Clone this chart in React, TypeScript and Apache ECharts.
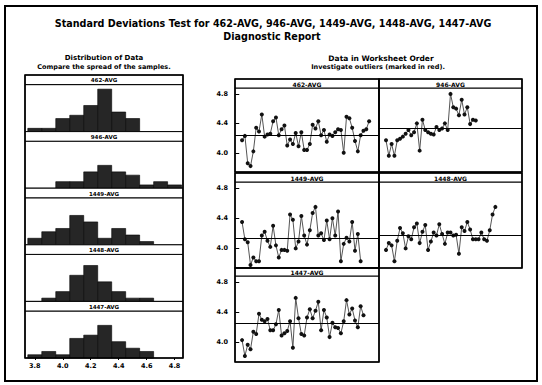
import React, { useEffect, useRef } from "react";
import * as echarts from "echarts";

// ---------- data ----------
const sampleNames = ["462-AVG", "946-AVG", "1449-AVG", "1448-AVG", "1447-AVG"];

const titleLines = [
  "Standard Deviations Test for 462-AVG, 946-AVG, 1449-AVG, 1448-AVG, 1447-AVG",
  "Diagnostic Report",
];
const leftSubtitle = ["Distribution of Data", "Compare the spread of the samples."];
const rightSubtitle = ["Data in Worksheet Order", "Investigate outliers (marked in red)."];

// histogram bins (centers) and counts
const binCenters = [3.8, 3.9, 4.0, 4.1, 4.2, 4.3, 4.4, 4.5, 4.6, 4.7, 4.8];
const hist462 = [1, 1, 4, 5, 8, 13, 6, 4, 0, 0, 0];
const hist946 = [0, 0, 2, 2, 5, 7, 5, 4, 1, 2, 1];
const hist1449 = [2, 4, 5, 9, 7, 2, 5, 3, 1, 0, 0];
const hist1448 = [0, 1, 3, 8, 11, 6, 3, 1, 1, 0, 0];
const hist1447 = [1, 2, 1, 6, 7, 10, 5, 3, 2, 0, 0];
const histTicks = [3.8, 4.0, 4.2, 4.4, 4.6, 4.8];

// data in worksheet order
const ts462 = [4.17, 4.23, 3.86, 3.82, 4.02, 4.34, 4.29, 4.52, 4.22, 4.25, 4.26, 4.43, 4.48, 4.24, 4.32, 4.37, 4.10, 4.18, 4.12, 4.27, 4.09, 4.28, 4.04, 4.04, 4.12, 4.38, 4.33, 4.43, 4.24, 4.31, 4.15, 4.25, 4.23, 4.28, 4.32, 4.31, 4.00, 4.49, 4.47, 4.34, 4.16, 4.02, 4.24, 4.30, 4.32, 4.43];
const ts946 = [4.17, 3.96, 4.12, 3.96, 4.17, 4.19, 4.22, 4.26, 4.31, 4.24, 4.28, 4.40, 4.03, 4.45, 4.31, 4.28, 4.26, 4.25, 4.35, 4.31, 4.33, 4.40, 4.31, 4.80, 4.62, 4.60, 4.51, 4.72, 4.52, 4.62, 4.39, 4.45, 4.44];
const ts1449 = [4.35, 4.12, 4.08, 3.78, 3.88, 3.83, 3.83, 4.17, 4.22, 4.10, 4.02, 4.30, 4.04, 3.88, 3.98, 3.98, 3.97, 4.45, 4.38, 4.00, 4.09, 4.43, 4.17, 4.05, 4.24, 4.47, 4.55, 4.17, 4.20, 4.11, 4.37, 4.12, 4.40, 4.17, 4.49, 3.83, 4.06, 4.14, 4.09, 4.35, 3.97, 4.19, 3.83];
const ts1448 = [3.98, 4.07, 4.04, 3.83, 4.10, 4.27, 4.20, 4.00, 4.16, 4.12, 4.28, 4.33, 4.07, 4.22, 4.31, 3.98, 4.09, 4.21, 4.17, 4.32, 4.19, 4.06, 4.21, 4.21, 4.17, 4.18, 3.93, 4.28, 4.23, 4.35, 4.25, 4.12, 4.12, 4.12, 4.21, 4.12, 4.10, 4.24, 4.45, 4.55];
const ts1447 = [4.03, 3.82, 3.97, 3.91, 4.14, 4.11, 4.38, 4.30, 4.28, 4.31, 4.16, 4.16, 4.24, 4.43, 4.09, 4.12, 4.15, 4.28, 3.93, 4.59, 4.32, 4.11, 4.09, 4.33, 4.44, 4.32, 4.42, 4.54, 4.16, 4.43, 4.33, 4.07, 4.26, 4.20, 4.19, 4.12, 4.28, 4.56, 4.37, 4.45, 4.29, 4.20, 4.48, 4.36];
const centerLines = [4.24, 4.33, 4.14, 4.18, 4.25];
const tsTicks = [4.0, 4.4, 4.8];

const histograms = [hist462, hist946, hist1449, hist1448, hist1447];
const series = [ts462, ts946, ts1449, ts1448, ts1447];

// ---------- layout ----------
const FONT = "DejaVu Sans";
const H_LEFT = 25;
const H_WIDTH = 158;
const H_TOP = 75;
const H_STEP = 56.6;
const H_HEAD = 9.6;

// time-series panel boxes: [left, headerTop, width, headerHeight, plotHeight]
const tsBoxes = [
  [235, 79, 144, 9, 84],
  [379, 79, 143, 9, 84],
  [235, 173, 144, 9, 86],
  [379, 173, 143, 9, 86],
  [235, 268, 144, 8, 86],
];

export default function App() {
  const ref = useRef<HTMLDivElement>(null);

  useEffect(() => {
    document.body.style.margin = "0";
    const chart = echarts.init(ref.current!, undefined, { renderer: "svg" });

    const grids: any[] = [];
    const xAxes: any[] = [];
    const yAxes: any[] = [];
    const allSeries: any[] = [];
    const graphics: any[] = [];

    // histograms
    histograms.forEach((counts, i) => {
      const headTop = H_TOP + i * H_STEP;
      grids.push({
        left: H_LEFT,
        top: headTop + H_HEAD,
        width: H_WIDTH,
        height: H_STEP - H_HEAD,
        show: true,
        borderColor: "#000",
        borderWidth: 1,
        backgroundColor: "#fff",
      });
      const last = i === histograms.length - 1;
      xAxes.push({
        type: "value",
        gridIndex: i,
        min: 3.73,
        max: 4.86,
        axisLine: { show: false },
        splitLine: { show: false },
        axisTick: { show: last, length: 2, customValues: histTicks, lineStyle: { color: "#000" } },
        axisLabel: {
          show: last,
          customValues: histTicks,
          margin: 4,
          fontSize: 6.5,
          fontWeight: "bold",
          fontFamily: FONT,
          color: "#000",
          formatter: (v: number) => v.toFixed(1),
        },
      });
      yAxes.push({
        type: "value",
        gridIndex: i,
        min: 0,
        max: 14.4,
        show: false,
      });
      allSeries.push({
        type: "custom",
        xAxisIndex: i,
        yAxisIndex: i,
        encode: { x: 0, y: 1 },
        data: binCenters.map((c, k) => [c, counts[k]]).filter((d) => d[1] > 0),
        renderItem: (_p: any, api: any) => {
          const x = api.value(0);
          const y = api.value(1);
          const a = api.coord([x - 0.05, y]);
          const b = api.coord([x + 0.05, 0]);
          return {
            type: "rect",
            shape: { x: a[0], y: a[1], width: b[0] - a[0], height: b[1] - a[1] },
            style: { fill: "#262626", stroke: "#000", lineWidth: 0.6 },
          };
        },
      });
      graphics.push({
        type: "rect",
        shape: { x: H_LEFT, y: headTop, width: H_WIDTH, height: H_HEAD },
        style: { fill: "#fff", stroke: "#000", lineWidth: 1 },
        z: 20,
      });
      graphics.push({
        type: "text",
        x: H_LEFT + H_WIDTH / 2,
        y: headTop + H_HEAD / 2 + 0.5,
        style: {
          text: sampleNames[i],
          fill: "#000",
          fontSize: 5.5,
          fontWeight: "bold",
          fontFamily: FONT,
          align: "center",
          verticalAlign: "middle",
          textAlign: "center",
          textVerticalAlign: "middle",
        },
        z: 21,
      });
    });
    graphics.push({
      type: "rect",
      shape: { x: H_LEFT, y: H_TOP, width: H_WIDTH, height: H_STEP * 5 },
      style: { fill: "none", stroke: "#000", lineWidth: 1.6 },
      z: 22,
    });

    // time series
    series.forEach((vals, j) => {
      const gi = 5 + j;
      const [left, headTop, width, headH, plotH] = tsBoxes[j];
      const leftCol = left < 300;
      grids.push({
        left,
        top: headTop + headH,
        width,
        height: plotH,
        show: true,
        borderColor: "#000",
        borderWidth: 1,
        backgroundColor: "#fff",
      });
      xAxes.push({
        type: "value",
        gridIndex: gi,
        min: -1.5,
        max: 49.5,
        show: false,
      });
      yAxes.push({
        type: "value",
        gridIndex: gi,
        min: 3.74,
        max: 4.88,
        axisLine: { show: false },
        splitLine: { show: false },
        axisTick: { show: leftCol, length: 4, customValues: tsTicks, lineStyle: { color: "#000" } },
        axisLabel: {
          show: leftCol,
          customValues: tsTicks,
          margin: 7,
          fontSize: 6.5,
          fontWeight: "bold",
          fontFamily: FONT,
          color: "#000",
          formatter: (v: number) => v.toFixed(1),
        },
      });
      allSeries.push({
        type: "line",
        xAxisIndex: gi,
        yAxisIndex: gi,
        data: vals.map((v, k) => [k + 1, v]),
        symbol: "circle",
        symbolSize: 4,
        itemStyle: { color: "#111" },
        lineStyle: { color: "#555", width: 1 },
        markLine: {
          silent: true,
          symbol: "none",
          label: { show: false },
          lineStyle: { color: "#000", width: 1, type: "solid" },
          data: [{ yAxis: centerLines[j] }],
        },
      });
      graphics.push({
        type: "rect",
        shape: { x: left, y: headTop, width, height: headH },
        style: { fill: "#fff", stroke: "#000", lineWidth: 1 },
        z: 20,
      });
      graphics.push({
        type: "text",
        x: left + width / 2,
        y: headTop + headH / 2 + 0.5,
        style: {
          text: sampleNames[j],
          fill: "#000",
          fontSize: 6,
          fontWeight: "bold",
          fontFamily: FONT,
          align: "center",
          verticalAlign: "middle",
          textAlign: "center",
          textVerticalAlign: "middle",
        },
        z: 21,
      });
      graphics.push({
        type: "rect",
        shape: { x: left, y: headTop, width, height: headH + plotH },
        style: { fill: "none", stroke: "#000", lineWidth: 1.6 },
        z: 22,
      });
    });

    const txt = (text: string, x: number, y: number, size: number, bold: boolean) => ({
      type: "text",
      x,
      y,
      style: {
        text,
        fill: "#000",
        fontSize: size,
        fontWeight: bold ? "bold" : "normal",
        fontFamily: FONT,
        align: "center",
        verticalAlign: "middle",
        textAlign: "center",
        textVerticalAlign: "middle",
      },
      z: 30,
    });
    graphics.push(txt(titleLines[0], 273, 23.5, 9.6, true));
    graphics.push(txt(titleLines[1], 272, 36, 9.6, true));
    graphics.push(txt(leftSubtitle[0], 104, 58, 7, true));
    graphics.push(txt(leftSubtitle[1], 104, 67, 6.5, true));
    graphics.push(txt(rightSubtitle[0], 381, 58, 7.5, true));
    graphics.push(txt(rightSubtitle[1], 378, 66.5, 6.5, true));
    graphics.push({
      type: "rect",
      shape: { x: 5, y: 6, width: 532, height: 375 },
      style: { fill: "none", stroke: "#000", lineWidth: 2 },
      z: 30,
    });

    chart.setOption({
      animation: false,
      backgroundColor: "#fff",
      grid: grids,
      xAxis: xAxes,
      yAxis: yAxes,
      series: allSeries,
      graphic: graphics,
    });
    return () => chart.dispose();
  }, []);

  return <div ref={ref} style={{ width: 542, height: 385 }} />;
}
